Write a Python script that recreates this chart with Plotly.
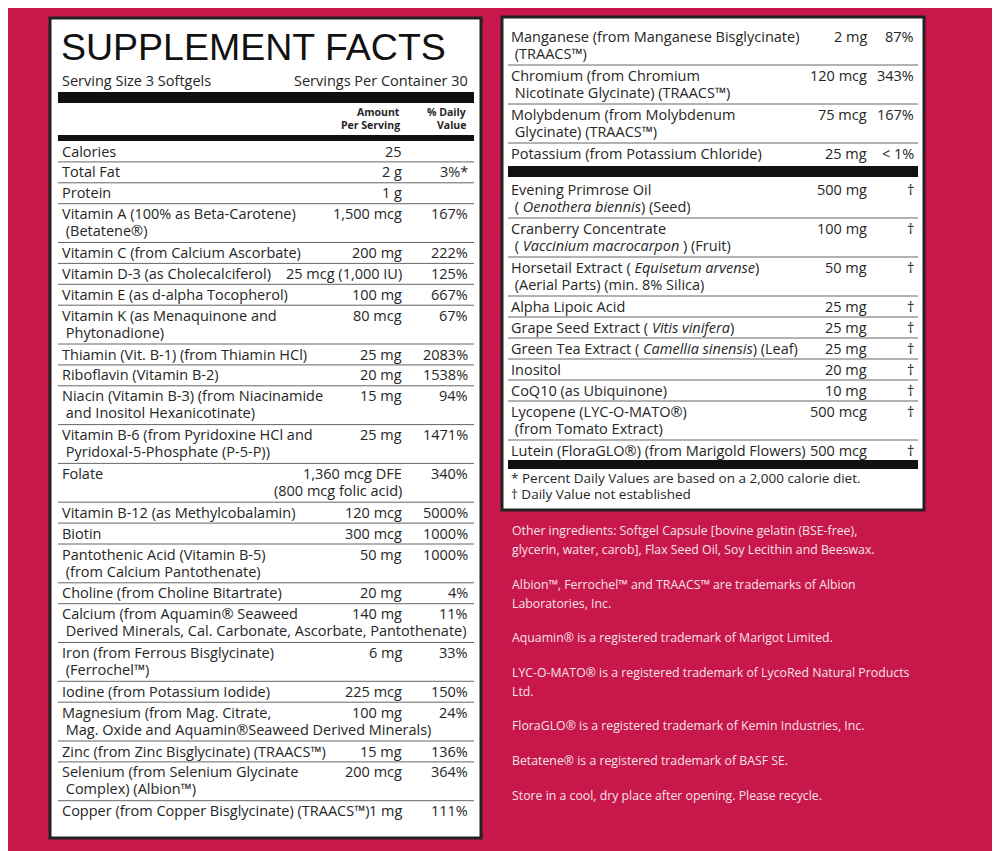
import plotly.graph_objects as go

# ---------- data ----------
left_names = [
    "Calories", "Total Fat", "Protein",
    "Vitamin A (100% as Beta-Carotene)<br> (Betatene®)",
    "Vitamin C (from Calcium Ascorbate)",
    "Vitamin D-3 (as Cholecalciferol)",
    "Vitamin E (as d-alpha Tocopherol)",
    "Vitamin K (as Menaquinone and<br> Phytonadione)",
    "Thiamin (Vit. B-1) (from Thiamin HCl)",
    "Riboflavin (Vitamin B-2)",
    "Niacin (Vitamin B-3) (from Niacinamide<br> and Inositol Hexanicotinate)",
    "Vitamin B-6 (from Pyridoxine HCl and<br> Pyridoxal-5-Phosphate (P-5-P))",
    "Folate<br> ",
    "Vitamin B-12 (as Methylcobalamin)",
    "Biotin",
    "Pantothenic Acid (Vitamin B-5)<br> (from Calcium Pantothenate)",
    "Choline (from Choline Bitartrate)",
    "Calcium (from Aquamin® Seaweed<br> Derived Minerals, Cal. Carbonate, Ascorbate, Pantothenate)",
    "Iron (from Ferrous Bisglycinate)<br> (Ferrochel™)",
    "Iodine (from Potassium Iodide)",
    "Magnesium (from Mag. Citrate,<br> Mag. Oxide and Aquamin®Seaweed Derived Minerals)",
    "Zinc (from Zinc Bisglycinate) (TRAACS™)",
    "Selenium (from Selenium Glycinate<br> Complex) (Albion™)",
    "Copper (from Copper Bisglycinate) (TRAACS™)",
]
left_amounts = ["25", "2 g", "1 g", "1,500 mcg", "200 mg", "25 mcg (1,000 IU)", "100 mg", "80 mcg",
                "25 mg", "20 mg", "15 mg", "25 mg", "1,360 mcg DFE<br>(800 mcg folic acid)",
                "120 mcg", "300 mcg", "50 mg", "20 mg", "140 mg", "6 mg", "225 mcg", "100 mg",
                "15 mg", "200 mcg", "1 mg"]
left_dv = ["", "3%*", "", "167%", "222%", "125%", "667%", "67%", "2083%", "1538%", "94%", "1471%",
           "340%", "5000%", "1000%", "1000%", "4%", "11%", "33%", "150%", "24%", "136%", "364%", "111%"]

right_names = [
    "Manganese (from Manganese Bisglycinate)<br> (TRAACS™)",
    "Chromium (from Chromium<br> Nicotinate Glycinate) (TRAACS™)",
    "Molybdenum (from Molybdenum<br> Glycinate) (TRAACS™)",
    "Potassium (from Potassium Chloride)",
    "Evening Primrose Oil<br> ( <i>Oenothera biennis</i>) (Seed)",
    "Cranberry Concentrate<br> ( <i>Vaccinium macrocarpon</i> ) (Fruit)",
    "Horsetail Extract ( <i>Equisetum arvense</i>)<br> (Aerial Parts) (min. 8% Silica)",
    "Alpha Lipoic Acid",
    "Grape Seed Extract ( <i>Vitis vinifera</i>)",
    "Green Tea Extract ( <i>Camellia sinensis</i>) (Leaf)",
    "Inositol",
    "CoQ10 (as Ubiquinone)",
    "Lycopene (LYC-O-MATO®)<br> (from Tomato Extract)",
    "Lutein (FloraGLO®) (from Marigold Flowers)",
]
right_amounts = ["2 mg", "120 mcg", "75 mcg", "25 mg", "500 mg", "100 mg", "50 mg", "25 mg", "25 mg",
                 "25 mg", "20 mg", "10 mg", "500 mcg", "500 mcg"]
right_dv = ["87%", "343%", "167%", "< 1%", "†", "†", "†", "†", "†", "†", "†", "†", "†", "†"]

footnotes = ["* Percent Daily Values are based on a 2,000 calorie diet.", "† Daily Value not established"]

notes = [
    "Other ingredients: Softgel Capsule [bovine gelatin (BSE-free),<br>glycerin, water, carob], Flax Seed Oil, Soy Lecithin and Beeswax.",
    "Albion™, Ferrochel™ and TRAACS™ are trademarks of Albion<br>Laboratories, Inc.",
    "Aquamin® is a registered trademark of Marigot Limited.",
    "LYC-O-MATO® is a registered trademark of LycoRed Natural Products<br>Ltd.",
    "FloraGLO® is a registered trademark of Kemin Industries, Inc.",
    "Betatene® is a registered trademark of BASF SE.",
    "Store in a cool, dry place after opening. Please recycle.",
]
note_y = [530, 584, 637, 672, 725, 760, 795]

BG = "#c8174a"
FONT = "Open Sans"
TXT = "#262626"
FS = 14.5

shapes, ann = [], []

def rect(x0, y0, x1, y1, fill, line=None, w=0):
    shapes.append(dict(type="rect", x0=x0, y0=y0, x1=x1, y1=y1, fillcolor=fill,
                       line=dict(color=line or fill, width=w), layer="below"))

def hline(x0, x1, y, w=1, c="#666"):
    shapes.append(dict(type="line", x0=x0, x1=x1, y0=y, y1=y, line=dict(color=c, width=w)))

def text(x, y, s, size=FS, anchor="left", color=TXT, bold=False, family=FONT, step=17):
    for k, line in enumerate(s.split("<br>")):
        if bold:
            line = "<b>" + line + "</b>"
        ann.append(dict(x=x, y=y + k * step, text=line, showarrow=False, xanchor=anchor,
                        yanchor="middle", font=dict(size=size, color=color, family=family)))

# ---------- left panel ----------
rect(50, 18, 481, 838, "white", "#222", 3)
text(59, 47, "SUPPLEMENT FACTS", size=37.5, color="#111", family="Liberation Sans")
text(60, 80, "Serving Size 3 Softgels", size=14.5)
text(470, 80, "Servings Per Container 30", size=14.5, anchor="right")
rect(58, 92, 474, 103, "#111")
text(402, 112, "Amount<br>Per Serving", size=10.5, anchor="right", bold=True, step=13)
text(468, 112, "% Daily<br>Value", size=10.5, anchor="right", bold=True, step=13)
rect(58, 135, 474, 141, "#111")

y = 141
for name, amt, dv in zip(left_names, left_amounts, left_dv):
    n = name.count("<br>") + 1
    h = 3 + 17.9 * n
    top = y + 10
    text(60, top, name)
    text(404, top, amt, anchor="right")
    text(470, top, dv, anchor="right")
    y += h
    if y < 820:
        hline(58, 474, y)

# ---------- right panel ----------
rect(502, 17, 924, 510, "white", "#222", 3)
ry = 26
for i, (name, amt, dv) in enumerate(zip(right_names, right_amounts, right_dv)):
    n = name.count("<br>") + 1
    h = 3 + 18 * n
    top = ry + 10
    text(509, top, name)
    text(869, top, amt, anchor="right")
    text(916, top, dv, anchor="right")
    ry += h
    if i == 3:
        rect(508, ry + 2, 918, ry + 13, "#111")
        ry += 15
    elif i == len(right_names) - 1:
        rect(508, ry - 1, 918, ry + 8, "#111")
        ry += 8
    else:
        hline(508, 918, ry)
text(509, ry + 9, footnotes[0], size=13.5)
text(509, ry + 25, footnotes[1], size=13.5)

# ---------- notes ----------
for s, ny in zip(notes, note_y):
    text(510, ny, s, size=12.3, color="#f6e3e9", step=19)

fig = go.Figure()
fig.update_layout(width=1000, height=851, margin=dict(l=0, r=0, t=0, b=0),
                  paper_bgcolor=BG, plot_bgcolor=BG, shapes=shapes, annotations=ann,
                  showlegend=False,
                  xaxis=dict(range=[8, 1008], visible=False, fixedrange=True),
                  yaxis=dict(range=[859, 8], visible=False, fixedrange=True))
fig.write_html("out.html")
